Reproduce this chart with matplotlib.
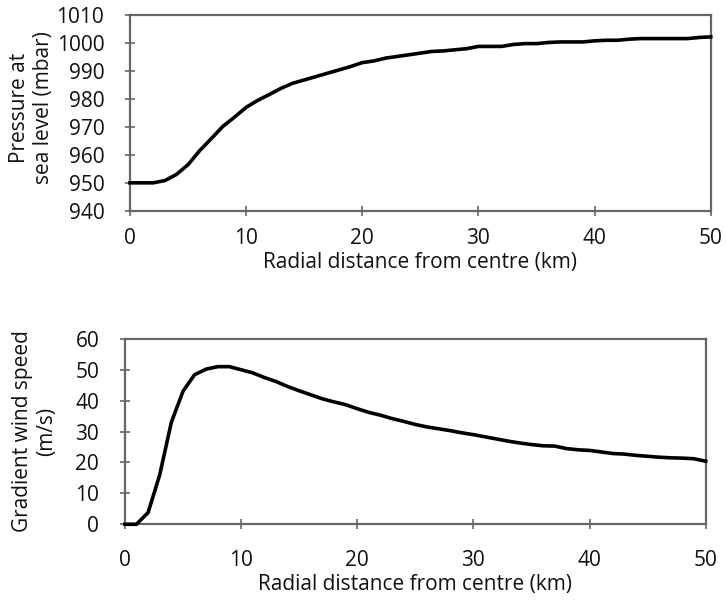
import matplotlib.pyplot as plt

# radial distance (km), one reading per km
distance = list(range(0, 51))

pressure = [
    950, 950, 950, 950.8, 953, 956.5, 961.5, 965.8, 970.2, 973.5,
    977, 979.5, 981.6, 983.8, 985.6, 986.8, 988, 989.2, 990.4, 991.6,
    993, 993.6, 994.6, 995.2, 995.8, 996.4, 997, 997.2, 997.6, 998,
    998.8, 998.8, 998.8, 999.5, 999.8, 999.8, 1000.2, 1000.4, 1000.4, 1000.4,
    1000.8, 1001, 1001, 1001.4, 1001.6, 1001.6, 1001.6, 1001.6, 1001.6, 1002,
    1002.2,
]

wind_speed = [
    0, 0, 3.8, 16, 33, 43, 48.4, 50.2, 51, 51,
    50, 49, 47.5, 46.2, 44.6, 43.2, 41.9, 40.6, 39.6, 38.7,
    37.4, 36.2, 35.3, 34.2, 33.3, 32.3, 31.5, 30.9, 30.3, 29.6,
    29, 28.3, 27.6, 26.9, 26.3, 25.8, 25.4, 25.3, 24.5, 24.1,
    23.9, 23.4, 22.9, 22.7, 22.3, 22, 21.7, 21.5, 21.4, 21.2,
    20.4,
]

x_ticks = [0, 10, 20, 30, 40, 50]
pressure_ticks = [940, 950, 960, 970, 980, 990, 1000, 1010]
wind_ticks = [0, 10, 20, 30, 40, 50, 60]

plt.rcParams["font.family"] = ["Open Sans", "DejaVu Sans"]

fig = plt.figure(figsize=(7.26, 6.04), dpi=100)
ax_top = fig.add_axes([0.179, 0.651, 0.800, 0.324])
ax_bot = fig.add_axes([0.172, 0.132, 0.800, 0.307])

spine_color = "#666666"
text_color = "#111111"


def style_axes(ax, xpad):
    for spine in ax.spines.values():
        spine.set_color(spine_color)
        spine.set_linewidth(1.6)
    ax.tick_params(direction="inout", length=7, width=1.2, color=spine_color,
                   labelcolor=text_color, labelsize=15)
    ax.tick_params(axis="x", pad=xpad)
    ax.tick_params(axis="y", pad=15)
    ax.set_xlim(0, 50)
    ax.set_xticks(x_ticks)
    ax.set_xlabel("Radial distance from centre (km)", fontsize=15,
                  color=text_color, labelpad=2)


ax_top.plot(distance, pressure, color="black", lw=2.6,
            solid_joinstyle="round", zorder=3, clip_on=False)
style_axes(ax_top, 9)
ax_top.set_ylim(940, 1010)
ax_top.set_yticks(pressure_ticks)
ax_top.set_ylabel("Pressure at\nsea level (mbar)", fontsize=15, color=text_color)
ax_top.yaxis.set_label_coords(-0.131, 0.525)

ax_bot.plot(distance, wind_speed, color="black", lw=2.6,
            solid_joinstyle="round", zorder=3, clip_on=False)
style_axes(ax_bot, 15)
ax_bot.set_ylim(0, 60)
ax_bot.set_yticks(wind_ticks)
ax_bot.set_ylabel("Gradient wind speed\n(m/s)", fontsize=15, color=text_color)
ax_bot.yaxis.set_label_coords(-0.117, 0.5)

fig.savefig("out.png", dpi=100)
